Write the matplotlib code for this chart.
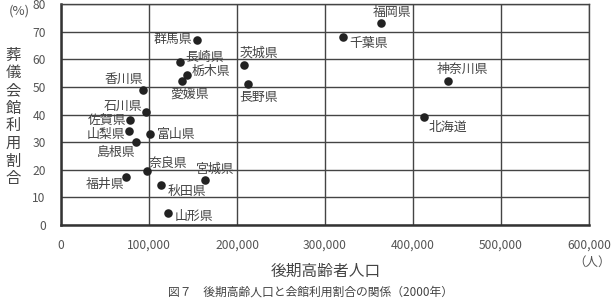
import matplotlib
matplotlib.use("Agg")
import matplotlib.pyplot as plt

plt.rcParams['font.family'] = ['Noto Sans CJK JP', 'DejaVu Sans']

prefectures = ['群馬県', '長崎県', '栃木県', '愛媛県', '茨城県', '長野県', '香川県', '石川県',
               '佐賀県', '山梨県', '富山県', '島根県', '奈良県', '福井県', '秋田県', '宮城県',
               '山形県', '福岡県', '千葉県', '神奈川県', '北海道']
elderly_pop = [154500, 135000, 143000, 138000, 208000, 212000, 93500, 96500,
               78500, 77500, 101500, 85500, 97500, 74000, 114000, 164000,
               122000, 363500, 320000, 440000, 413000]
hall_rate = [67, 59, 54.4, 52, 58, 51, 49, 41,
             38, 34, 33, 30, 19.5, 17.3, 14.4, 16.2,
             4.3, 73, 68, 52, 39]
x_ticks = [0, 100000, 200000, 300000, 400000, 500000, 600000]
y_ticks = [0, 10, 20, 30, 40, 50, 60, 70, 80]

# label offsets in pixels (dx, dy, ha)
offsets = {
    '群馬県': (-5, 0, 'right'), '長崎県': (6, -5, 'left'), '栃木県': (5, -3, 'left'),
    '愛媛県': (7, 13, 'center'), '茨城県': (15, -12, 'center'), '長野県': (11, 13, 'center'),
    '香川県': (0, -10, 'right'), '石川県': (-4, -5, 'right'), '佐賀県': (-4, 0, 'right'),
    '山梨県': (-4, 3, 'right'), '富山県': (7, 1, 'left'), '島根県': (-1, 10, 'right'),
    '奈良県': (2, -8, 'left'), '福井県': (-2, 7, 'right'), '秋田県': (6, 6, 'left'),
    '宮城県': (10, -11, 'center'), '山形県': (6, 3, 'left'), '福岡県': (11, -11, 'center'),
    '千葉県': (7, 6, 'left'), '神奈川県': (14, -12, 'center'), '北海道': (4, 10, 'left'),
}

W, H = 612, 298
fig = plt.figure(figsize=(W / 100, H / 100), dpi=100)
ax = fig.add_axes([61 / W, 1 - 225 / H, (589 - 61) / W, (225 - 4) / H])

gridc = '#444444'
txtc = '#555555'
ax.scatter(elderly_pop, hall_rate, s=38, color='#222222', zorder=3, linewidths=0)
for name, xv, yv in zip(prefectures, elderly_pop, hall_rate):
    dx, dy, ha = offsets[name]
    ax.annotate(name, (xv, yv), xytext=(dx, -dy), textcoords='offset pixels',
                ha=ha, va='center', fontsize=9.3, color='#444444')

ax.set_xlim(0, 600000)
ax.set_ylim(0, 80)
ax.set_xticks(x_ticks)
ax.set_yticks(y_ticks)
ax.set_xticklabels([f'{v:,}' for v in x_ticks])
ax.set_yticklabels([str(v) for v in y_ticks])
ax.grid(True, color=gridc, linewidth=1.0)
ax.set_axisbelow(True)
ax.tick_params(axis='both', length=0, labelsize=8.7, colors=txtc)
ax.tick_params(axis='x', pad=10)
ax.tick_params(axis='y', pad=11)
for s in ['top', 'right']:
    ax.spines[s].set_color(gridc)
    ax.spines[s].set_linewidth(1.0)
for s in ['left', 'bottom']:
    ax.spines[s].set_color('#333333')
    ax.spines[s].set_linewidth(1.8)

fig.text(19 / W, 1 - 11 / H, '(%)', ha='center', va='center', fontsize=9.5, color=txtc)
fig.text(592 / W, 1 - 262 / H, '（人）', ha='center', va='center', fontsize=9, color=txtc)
fig.text(13 / W, 1 - 117 / H, '\n'.join('葬儀会館利用割合'), ha='center', va='center',
         fontsize=11, color='#444444', linespacing=1.05)
fig.text(326 / W, 1 - 271 / H, '後期高齢者人口', ha='center', va='center', fontsize=11.3, color='#444444')
fig.text(310 / W, 1 - 292 / H, '図７　後期高齢人口と会館利用割合の関係（2000年）', ha='center', va='center',
         fontsize=8.5, color='#444444')

fig.savefig('out.png', dpi=100)
